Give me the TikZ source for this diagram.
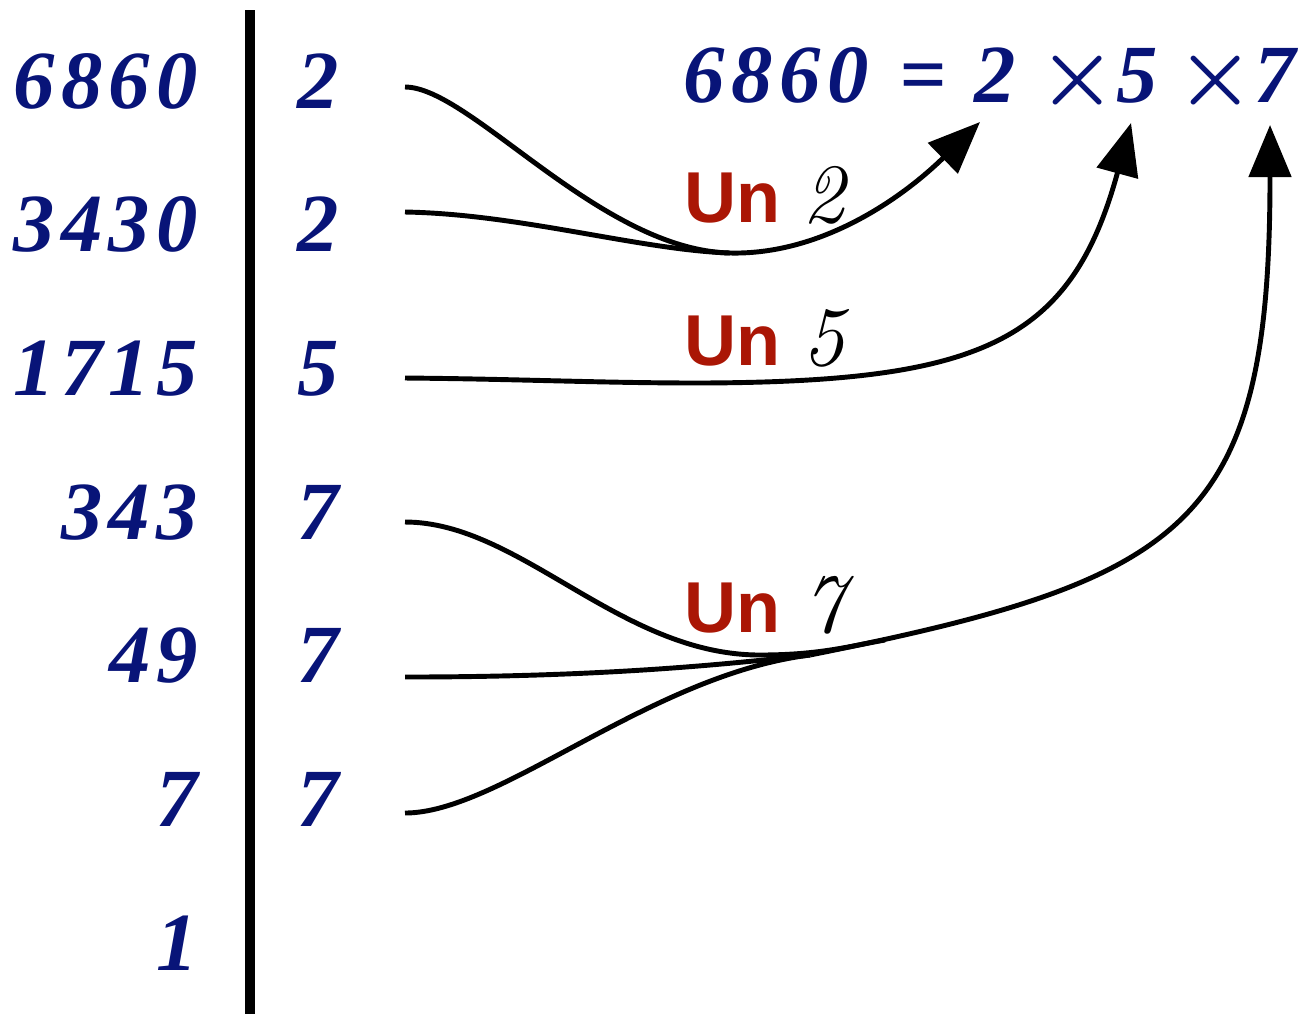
\documentclass[tikz,border=0pt]{standalone}
\usepackage{amsmath}
\usepackage{fontspec}
\usepackage{xcolor}
\usepackage{tikz}
\usetikzlibrary{arrows.meta}
\newfontfamily\unsans{Liberation Sans}
\newfontfamily\quotserif{Liberation Serif}[LetterSpace=8]
\definecolor{quotc}{RGB}{8,20,120}
\definecolor{unc}{RGB}{170,22,5}
\newcommand{\undigit}[1]{{\color{black}\rmfamily\mdseries\itshape\fontsize{24}{28}\selectfont #1}}

\begin{document}
\begin{tikzpicture}[x=0.01cm,y=-0.01cm,>={Triangle[length=5.2mm,width=4.2mm]},
  quot/.style={text=quotc,font=\quotserif\fontsize{23.5}{28}\selectfont\bfseries\itshape,inner sep=0pt},
  unlab/.style={text=unc,font=\unsans\fontsize{20.5}{24}\selectfont\bfseries,inner sep=0pt},
  flow/.style={line width=1.4pt}]
\useasboundingbox (0,0) rectangle (1307,1014);
% division bar
\coordinate (bartop) at (250,10);
\coordinate (barbot) at (250,1014);
\draw[line width=2.8pt] (bartop) -- (barbot);
% quotients (left) and divisors (right)
\foreach \v [count=\i] in {6860,3430,1715,343,49,7,1}
  \node[quot,anchor=base east] (q\i) at (199,{108+143.7*(\i-1)}) {\v};
\foreach \v [count=\i] in {2,2,5,7,7,7}
  \node[quot,anchor=base] (d\i) at (318,{108+143.7*(\i-1)}) {\v};
% the result
\node[quot,anchor=base west] (h6860) at (683,102) {6860};
\node[quot,anchor=base] (heq) at (923,102) {=};
\node[quot,anchor=base] (h2) at (995,102) {2};
\node[quot,anchor=base] (hx5) at (1098,102) {$\boldsymbol{\times}$5};
\node[quot,anchor=base] (hx7) at (1236,102) {$\boldsymbol{\times}$7};
% ends of the curves
\coordinate (s1) at (405,87);
\coordinate (s2) at (405,212);
\coordinate (s3) at (405,378);
\coordinate (s4) at (405,522);
\coordinate (s5) at (405,677);
\coordinate (s6) at (405,813);
\coordinate (m2) at (730,253);
\coordinate (k5) at (700,383);
\coordinate (m7) at (810,655);
\coordinate (e7) at (885,640);
\coordinate (t2) at (980,122);
\coordinate (t5) at (1131,123);
\coordinate (t7) at (1270,125);
% the two 2
\draw[flow,->] (s1) .. controls (470,87) and (600,250) .. (m2) .. controls (820,255) and (900,200) .. (t2);
\draw[flow] (s2) .. controls (520,214) and (640,250) .. (m2);
% the 5
\draw[flow,->] (s3) .. controls (520,379) and (600,383) .. (k5) .. controls (980,382) and (1071,343) .. (t5);
% the three 7
\draw[flow] (s4) .. controls (520,522) and (620,655) .. (760,655) .. controls (820,655) and (850,646) .. (e7);
\draw[flow] (s5) .. controls (600,677) and (720,665) .. (m7);
\draw[flow] (s6) .. controls (500,813) and (650,675) .. (m7);
\draw[flow,->] (m7) .. controls (1190,579) and (1270,525) .. (t7);
% labels
\node[unlab,anchor=base west] (un2) at (684,222) {Un\hspace{0.3em}\undigit{2}};
\node[unlab,anchor=base west] (un5) at (684,365) {Un\hspace{0.3em}\undigit{5}};
\node[unlab,anchor=base west] (un7) at (684,632) {Un\hspace{0.3em}\undigit{7}};
\end{tikzpicture}
\end{document}
